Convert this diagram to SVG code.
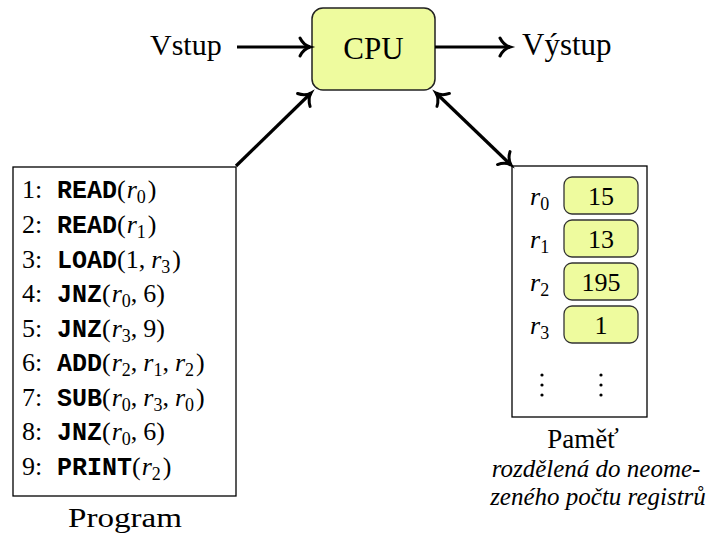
<svg xmlns="http://www.w3.org/2000/svg" width="709" height="536" viewBox="0 0 709 536">
<style>
.box{fill:#fff;stroke:#000;stroke-width:1.3}
.reg{fill:#eefb9e;stroke:#333;stroke-width:1.3}
.conn path{fill:none;stroke:#000;stroke-width:3.2}
</style>
<defs>
<marker id="ah" viewBox="-13 -12 16 24" refX="0" refY="0" markerWidth="16" markerHeight="24" orient="auto-start-reverse" markerUnits="userSpaceOnUse" overflow="visible">
<path d="M-10,-9 C-8,-5 -4,-1.2 0,0 C-4,1.2 -8,5 -10,9" fill="none" stroke="#000" stroke-width="3" stroke-linecap="round"/>
</marker>
</defs>
<g id="cpu">
<rect x="312" y="8" width="123" height="82" rx="11" fill="#eefb9e" stroke="#222" stroke-width="1.5"/>
<text x="373.5" y="59" text-anchor="middle" font-family="Liberation Serif, Times New Roman, serif" font-size="31">CPU</text>
</g>
<g id="vstup"><text x="150" y="55" font-family="Liberation Serif, Times New Roman, serif" font-size="30">Vstup</text></g>
<g id="vystup"><text x="522" y="55" font-family="Liberation Serif, Times New Roman, serif" font-size="31">Výstup</text></g>

<g id="program">
<rect class="box" x="13" y="167" width="223" height="329"/>
<text x="22" y="198" font-family="Liberation Serif, Times New Roman, serif" font-size="26">1:<tspan x="57" font-family="Liberation Mono, Courier New, monospace" font-weight="bold" font-size="25">READ</tspan>(<tspan font-style="italic" dx="1">r</tspan><tspan font-size="18" dy="5">0</tspan><tspan dy="-5" dx="2">)</tspan></text>
<text x="22" y="233" font-family="Liberation Serif, Times New Roman, serif" font-size="26">2:<tspan x="57" font-family="Liberation Mono, Courier New, monospace" font-weight="bold" font-size="25">READ</tspan>(<tspan font-style="italic" dx="1">r</tspan><tspan font-size="18" dy="5">1</tspan><tspan dy="-5" dx="2">)</tspan></text>
<text x="22" y="268" font-family="Liberation Serif, Times New Roman, serif" font-size="26">3:<tspan x="57" font-family="Liberation Mono, Courier New, monospace" font-weight="bold" font-size="25">LOAD</tspan>(1,<tspan font-style="italic" dx="6">r</tspan><tspan font-size="18" dy="5">3</tspan><tspan dy="-5" dx="2">)</tspan></text>
<text x="22" y="302" font-family="Liberation Serif, Times New Roman, serif" font-size="26">4:<tspan x="57" font-family="Liberation Mono, Courier New, monospace" font-weight="bold" font-size="25">JNZ</tspan>(<tspan font-style="italic" dx="1">r</tspan><tspan font-size="18" dy="5">0</tspan><tspan dy="-5">,</tspan><tspan dx="6">6)</tspan></text>
<text x="22" y="337" font-family="Liberation Serif, Times New Roman, serif" font-size="26">5:<tspan x="57" font-family="Liberation Mono, Courier New, monospace" font-weight="bold" font-size="25">JNZ</tspan>(<tspan font-style="italic" dx="1">r</tspan><tspan font-size="18" dy="5">3</tspan><tspan dy="-5">,</tspan><tspan dx="6">9)</tspan></text>
<text x="22" y="371" font-family="Liberation Serif, Times New Roman, serif" font-size="26">6:<tspan x="57" font-family="Liberation Mono, Courier New, monospace" font-weight="bold" font-size="25">ADD</tspan>(<tspan font-style="italic" dx="1">r</tspan><tspan font-size="18" dy="5">2</tspan><tspan dy="-5">,</tspan><tspan font-style="italic" dx="6">r</tspan><tspan font-size="18" dy="5">1</tspan><tspan dy="-5">,</tspan><tspan font-style="italic" dx="6">r</tspan><tspan font-size="18" dy="5">2</tspan><tspan dy="-5" dx="2">)</tspan></text>
<text x="22" y="406" font-family="Liberation Serif, Times New Roman, serif" font-size="26">7:<tspan x="57" font-family="Liberation Mono, Courier New, monospace" font-weight="bold" font-size="25">SUB</tspan>(<tspan font-style="italic" dx="1">r</tspan><tspan font-size="18" dy="5">0</tspan><tspan dy="-5">,</tspan><tspan font-style="italic" dx="6">r</tspan><tspan font-size="18" dy="5">3</tspan><tspan dy="-5">,</tspan><tspan font-style="italic" dx="6">r</tspan><tspan font-size="18" dy="5">0</tspan><tspan dy="-5" dx="2">)</tspan></text>
<text x="22" y="440" font-family="Liberation Serif, Times New Roman, serif" font-size="26">8:<tspan x="57" font-family="Liberation Mono, Courier New, monospace" font-weight="bold" font-size="25">JNZ</tspan>(<tspan font-style="italic" dx="1">r</tspan><tspan font-size="18" dy="5">0</tspan><tspan dy="-5">,</tspan><tspan dx="6">6)</tspan></text>
<text x="22" y="475" font-family="Liberation Serif, Times New Roman, serif" font-size="26">9:<tspan x="57" font-family="Liberation Mono, Courier New, monospace" font-weight="bold" font-size="25">PRINT</tspan>(<tspan font-style="italic" dx="1">r</tspan><tspan font-size="18" dy="5">2</tspan><tspan dy="-5" dx="2">)</tspan></text>
<text x="125" y="527" text-anchor="middle" font-family="Liberation Serif, Times New Roman, serif" font-size="28" textLength="114" lengthAdjust="spacingAndGlyphs">Program</text>
</g>

<g id="memory">
<rect class="box" x="512" y="166" width="135" height="251"/>
<rect class="reg" x="564" y="177" width="74" height="37" rx="8"/>
<rect class="reg" x="564" y="220" width="74" height="37" rx="8"/>
<rect class="reg" x="564" y="263" width="74" height="37" rx="8"/>
<rect class="reg" x="564" y="306" width="74" height="37" rx="8"/>
<text x="601" y="205" text-anchor="middle" font-family="Liberation Serif, Times New Roman, serif" font-size="26">15</text>
<text x="601" y="248" text-anchor="middle" font-family="Liberation Serif, Times New Roman, serif" font-size="26">13</text>
<text x="601" y="291" text-anchor="middle" font-family="Liberation Serif, Times New Roman, serif" font-size="26">195</text>
<text x="601" y="334" text-anchor="middle" font-family="Liberation Serif, Times New Roman, serif" font-size="26">1</text>
<text x="530" y="205" font-family="Liberation Serif, Times New Roman, serif" font-size="26"><tspan font-style="italic">r</tspan><tspan font-size="18" dy="5">0</tspan></text>
<text x="530" y="248" font-family="Liberation Serif, Times New Roman, serif" font-size="26"><tspan font-style="italic">r</tspan><tspan font-size="18" dy="5">1</tspan></text>
<text x="530" y="291" font-family="Liberation Serif, Times New Roman, serif" font-size="26"><tspan font-style="italic">r</tspan><tspan font-size="18" dy="5">2</tspan></text>
<text x="530" y="334" font-family="Liberation Serif, Times New Roman, serif" font-size="26"><tspan font-style="italic">r</tspan><tspan font-size="18" dy="5">3</tspan></text>
<g fill="#000">
<circle cx="542" cy="375" r="1.6"/><circle cx="542" cy="385" r="1.6"/><circle cx="542" cy="395" r="1.6"/>
<circle cx="601" cy="375" r="1.6"/><circle cx="601" cy="385" r="1.6"/><circle cx="601" cy="395" r="1.6"/>
</g>
<text x="583" y="448" text-anchor="middle" font-family="Liberation Serif, Times New Roman, serif" font-size="27">Paměť</text>
<text x="596" y="477" text-anchor="middle" font-family="Liberation Serif, Times New Roman, serif" font-style="italic" font-size="25">rozdělená do neome-</text>
<text x="598" y="505" text-anchor="middle" font-family="Liberation Serif, Times New Roman, serif" font-style="italic" font-size="25">zeného počtu registrů</text>
</g>
<g id="connectors" class="conn">
<path d="M237,47 L310,47" marker-end="url(#ah)"/>
<path d="M435,47 L510,47" marker-end="url(#ah)"/>
<path d="M236,166 L311,93" marker-end="url(#ah)"/>
<path d="M436,93 L511,165" marker-start="url(#ah)" marker-end="url(#ah)"/>
</g>
</svg>
